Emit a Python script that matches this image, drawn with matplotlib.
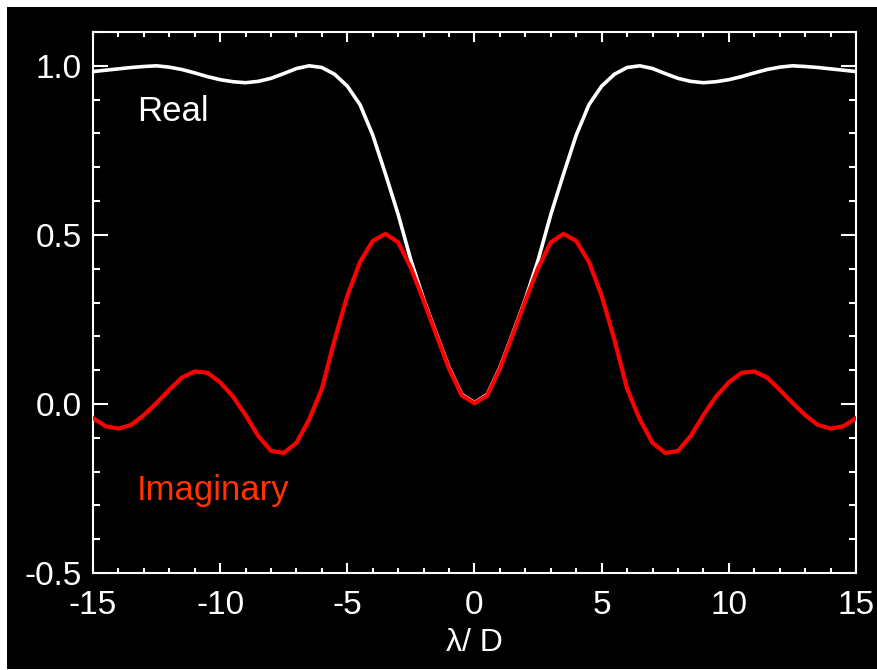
import numpy as np
import matplotlib
matplotlib.use("Agg")
import matplotlib.pyplot as plt
from matplotlib.ticker import MultipleLocator

plt.rcParams['font.family'] = ['Liberation Sans', 'DejaVu Sans']

# sampled positions (lambda/D)
x = np.arange(-15, 15.01, 0.5)

real_part = [0.983, 0.987, 0.991, 0.995, 0.998, 1.000, 0.996, 0.989, 0.979, 0.968,
             0.959, 0.953, 0.950, 0.954, 0.963, 0.977, 0.992, 1.000, 0.995, 0.975,
             0.940, 0.885, 0.795, 0.680, 0.560, 0.425, 0.310, 0.208, 0.108, 0.028,
             0.004,
             0.028, 0.108, 0.208, 0.310, 0.425, 0.560, 0.680, 0.795, 0.885, 0.940,
             0.975, 0.995, 1.000, 0.992, 0.977, 0.963, 0.954, 0.950, 0.953, 0.959,
             0.968, 0.979, 0.989, 0.996, 1.000, 0.998, 0.995, 0.991, 0.987, 0.983]

imag_part = [-0.042, -0.066, -0.073, -0.062, -0.033, 0.003, 0.042, 0.078, 0.096, 0.092,
             0.064, 0.022, -0.033, -0.095, -0.139, -0.145, -0.115, -0.046, 0.045, 0.190,
             0.320, 0.420, 0.482, 0.503, 0.478, 0.402, 0.305, 0.204, 0.104, 0.025,
             0.002,
             0.025, 0.104, 0.204, 0.305, 0.402, 0.478, 0.503, 0.482, 0.420, 0.320,
             0.190, 0.045, -0.046, -0.115, -0.145, -0.139, -0.095, -0.033, 0.022, 0.064,
             0.092, 0.096, 0.078, 0.042, 0.003, -0.033, -0.062, -0.073, -0.066, -0.042]

fig = plt.figure(figsize=(8.78, 6.70), dpi=100, facecolor='white')
# black panel (white strip on top/left as in the original)
fig.patches.append(matplotlib.patches.Rectangle((7/878, 1/670), 1 - 7/878, 1 - 8/670,
                                                transform=fig.transFigure,
                                                facecolor='black', edgecolor='none', zorder=-10))

ax = fig.add_axes([93/878, 1 - 573/670, (856 - 93)/878, (573 - 32)/670])
ax.set_facecolor('black')

ax.plot(x, real_part, color='white', lw=2.6, zorder=2)
ax.plot(x, imag_part, color='#ff0000', lw=3.0, zorder=3)

ax.set_xlim(-15, 15)
ax.set_ylim(-0.5, 1.1)
ax.xaxis.set_minor_locator(MultipleLocator(1))
ax.yaxis.set_minor_locator(MultipleLocator(0.1))
ax.set_xticks([-15, -10, -5, 0, 5, 10, 15])
ax.set_xticklabels(['-15', '-10', '-5', '0', '5', '10', '15'])
ax.set_yticks([-0.5, 0.0, 0.5, 1.0])
ax.set_yticklabels(['-0.5', '0.0', '0.5', '1.0'])

for s in ax.spines.values():
    s.set_color('white')
    s.set_linewidth(1.5)

ax.tick_params(axis='both', which='both', direction='in', colors='white',
               top=True, right=True, width=1.5, labelsize=24)
ax.tick_params(axis='x', which='major', length=7.2, pad=12)
ax.tick_params(axis='x', which='minor', length=3.6)
ax.tick_params(axis='y', which='major', length=10.8, pad=8)
ax.tick_params(axis='y', which='minor', length=5)

ax.set_xlabel('λ/ D', color='white', fontsize=23, labelpad=5)

ax.text(-13.27, 0.838, 'Real', color='white', fontsize=25, ha='left', va='baseline')
ax.text(-13.27, -0.283, 'Imaginary', color='#ff3300', fontsize=25, ha='left', va='baseline')

fig.savefig('out.png', dpi=100, facecolor=fig.get_facecolor())
